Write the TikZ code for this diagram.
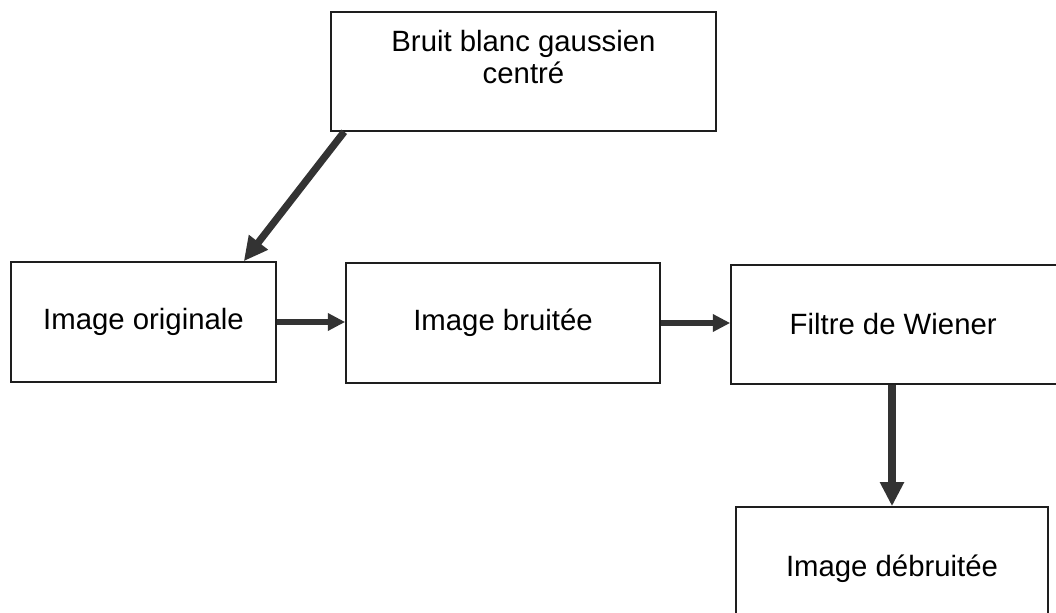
\documentclass[tikz,border=0pt]{standalone}
\usepackage{fontspec}
\setmainfont{Liberation Sans}
\usetikzlibrary{arrows.meta,calc}
\definecolor{linec}{HTML}{1E1E1E}
\definecolor{arrc}{HTML}{333333}
\begin{document}
\begin{tikzpicture}[x=0.75pt,y=-0.75pt,
  box/.style={draw=linec,line width=1.2pt,rectangle,inner sep=0pt,
    font=\fontsize{22pt}{25pt}\selectfont,align=center},
  harrow/.style={draw=arrc,line width=4.8pt,-{Triangle[length=13pt,width=12.5pt]}},
  bigarrow/.style={draw=arrc,line width=5.4pt,-{Triangle[length=18pt,width=17pt]}}]
\useasboundingbox (0,0) rectangle (1056,613);
\clip (0,0) rectangle (1056,613);
\fill[white] (0,0) rectangle (1056,613);
\node[box,minimum width=288.75pt,minimum height=89.25pt,
  label={[anchor=north,font=\fontsize{22pt}{24pt}\selectfont,align=center,yshift=-11pt]north:{Bruit blanc gaussien\\centré}}]
  (noise) at (523.5,71.5) {};
\node[box,minimum width=198.75pt,minimum height=90pt] (orig) at (143.5,322) {Image originale};
\node[box,minimum width=235.5pt,minimum height=90pt] (bruit) at (503,323) {Image bruitée};
\node[box,minimum width=251.25pt,minimum height=89.25pt] (filtre) at (898.5,324.5) {\hspace*{-8pt}Filtre de Wiener};
\node[box,minimum width=234pt,minimum height=92.25pt] (deb) at (892,568.5) {\raisebox{2pt}{Image débruitée}};
\draw[bigarrow] ($(noise.south west)+(14,0)$) -- ($(orig.north east)+(-33,0)$);
\draw[harrow] (orig.east) -- (orig.east -| bruit.west);
\draw[harrow] (bruit.east) -- (bruit.east -| filtre.west);
\draw[bigarrow] (deb.north |- filtre.south) -- (deb.north);
\end{tikzpicture}
\end{document}
